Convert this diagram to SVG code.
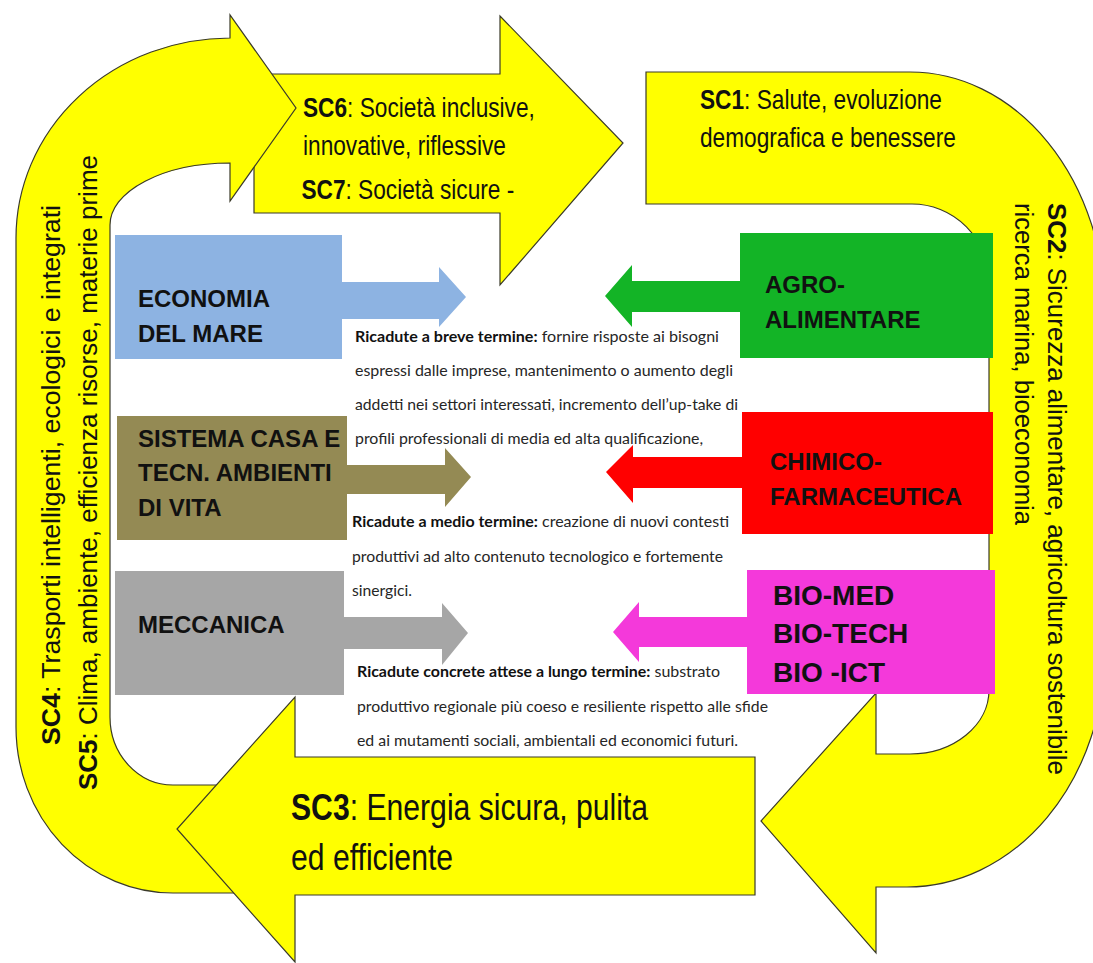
<svg xmlns="http://www.w3.org/2000/svg" width="1093" height="963" viewBox="0 0 1093 963">
  <style>
    .band { fill: #FFFF00; stroke: #3a3a2a; stroke-width: 1.2; stroke-linejoin: miter; }
    .sc { font-family: "Liberation Sans", Arial, sans-serif; font-size: 28px; fill: #111; }
    .sc3 { font-size: 37px; }
    .scr { font-family: "Liberation Sans", Arial, sans-serif; font-size: 26px; fill: #111; }
    .b { font-weight: bold; }
    .lbl { font-family: "Liberation Sans", Arial, sans-serif; font-weight: bold; font-size: 24px; fill: #111; }
    .big { font-size: 28px; }
    .note { font-family: Lato, "Open Sans", sans-serif; font-size: 15px; fill: #262626; }
    .note .b { fill: #111; }
  </style>

  <!-- challenge arrows (yellow ring); narrow captions use a horizontal squeeze -->
  <g id="sc6-sc7">
    <path class="band" d="M254,74 L500,74 L500,16 L623,143 L500,285 L500,213 L254,213 Z"/>
    <g transform="translate(303 0) scale(0.81 1)">
      <text class="sc" x="0" y="117"><tspan class="b">SC6</tspan>: Società inclusive,</text>
      <text class="sc" x="0" y="155">innovative, riflessive</text>
      <text class="sc" x="-2" y="199"><tspan class="b">SC7</tspan>: Società sicure -</text>
    </g>
  </g>

  <g id="sc1-sc2">
    <path class="band" d="M646,72 L910,72 A195,240 0 0 1 1105,312 L1105,650 A198,237 0 0 1 907,887 L876,887 L876,953 L761,821 L876,693 L876,754 L910,754 A79,64 0 0 0 989,690 L989,282 A77,78 0 0 0 912,204 L646,204 Z"/>
    <g transform="translate(700 0) scale(0.81 1)">
      <text class="sc" x="0" y="109"><tspan class="b">SC1</tspan>: Salute, evoluzione</text>
      <text class="sc" x="0" y="147">demografica e benessere</text>
    </g>
    <text class="scr" transform="rotate(90 1048 203)" x="1048" y="203" textLength="572" lengthAdjust="spacingAndGlyphs"><tspan class="b">SC2</tspan>: Sicurezza alimentare, agricoltura sostenibile</text>
    <text class="scr" transform="rotate(90 1015 203)" x="1015" y="203" textLength="322" lengthAdjust="spacingAndGlyphs">ricerca marina, bioeconomia</text>
  </g>

  <g id="sc4-sc5">
    <path class="band" d="M290,785 L173,785 A63,68 0 0 1 110,717 L110,225 A120,62 0 0 1 230,163 L230,201 L296,108 L230,15 L230,38 A214,200 0 0 0 16,238 L16,727 A157,166 0 0 0 173,893 L290,893 Z"/>
    <text class="scr" transform="rotate(-90 60 745)" x="60" y="745" textLength="540" lengthAdjust="spacingAndGlyphs"><tspan class="b">SC4</tspan>: Trasporti intelligenti, ecologici e integrati</text>
    <text class="scr" transform="rotate(-90 97 790)" x="97" y="790" textLength="635" lengthAdjust="spacingAndGlyphs"><tspan class="b">SC5</tspan>: Clima, ambiente, efficienza risorse, materie prime</text>
  </g>

  <g id="sc3">
    <path class="band" d="M755,757 L295,757 L295,697 L177,829 L295,962 L295,895 L755,895 Z"/>
    <g transform="translate(291 0) scale(0.815 1)">
      <text class="sc sc3" x="0" y="820"><tspan class="b">SC3</tspan>: Energia sicura, pulita</text>
      <text class="sc sc3" x="0" y="870">ed efficiente</text>
    </g>
  </g>

  <!-- sector blocks pointing to the centre -->
  <g id="economia-del-mare">
    <rect x="115" y="235" width="227" height="124" fill="#8DB3E2"/>
    <polygon points="341,282 439,282 439,267 466,297 439,327 439,319 341,319" fill="#8DB3E2"/>
    <text class="lbl" x="138" y="307">ECONOMIA</text>
    <text class="lbl" x="138" y="342">DEL MARE</text>
  </g>

  <g id="sistema-casa">
    <rect x="117" y="416" width="230" height="124" fill="#948A54"/>
    <polygon points="346,465 445,465 445,448 471,477 445,507 445,494 346,494" fill="#948A54"/>
    <text class="lbl" x="138" y="447">SISTEMA CASA E</text>
    <text class="lbl" x="138" y="481">TECN. AMBIENTI</text>
    <text class="lbl" x="138" y="516">DI VITA</text>
  </g>

  <g id="meccanica">
    <rect x="115" y="571" width="229" height="124" fill="#A6A6A6"/>
    <polygon points="343,617 442,617 442,603 468,633 442,665 442,649 343,649" fill="#A6A6A6"/>
    <text class="lbl" x="138" y="633">MECCANICA</text>
  </g>

  <g id="agro-alimentare">
    <rect x="740" y="233" width="253" height="125" fill="#13B426"/>
    <polygon points="741,281 632,281 632,265 605,296 632,327 632,312 741,312" fill="#13B426"/>
    <text class="lbl" x="765" y="293">AGRO-</text>
    <text class="lbl" x="765" y="328">ALIMENTARE</text>
  </g>

  <g id="chimico-farmaceutica">
    <rect x="742" y="412" width="251" height="122" fill="#FF0000"/>
    <polygon points="743,457 633,457 633,445 606,472 633,503 633,488 743,488" fill="#FF0000"/>
    <text class="lbl" x="770" y="470">CHIMICO-</text>
    <text class="lbl" x="770" y="505">FARMACEUTICA</text>
  </g>

  <g id="bio">
    <rect x="747" y="570" width="248" height="124" fill="#F439DA"/>
    <polygon points="748,617 639,617 639,602 613,632 639,662 639,647 748,647" fill="#F439DA"/>
    <text class="lbl big" x="773" y="605">BIO-MED</text>
    <text class="lbl big" x="773" y="643">BIO-TECH</text>
    <text class="lbl big" x="773" y="682">BIO -ICT</text>
  </g>

  <!-- expected outcomes -->
  <g id="ricadute-breve" class="note">
    <text x="355" y="342" textLength="364" lengthAdjust="spacingAndGlyphs"><tspan class="b" font-weight="bold">Ricadute a breve termine:</tspan>  fornire risposte ai bisogni</text>
    <text x="355" y="376" textLength="378" lengthAdjust="spacingAndGlyphs">espressi dalle imprese, mantenimento o aumento degli</text>
    <text x="355" y="410" textLength="383" lengthAdjust="spacingAndGlyphs">addetti nei settori interessati, incremento dell’up-take di</text>
    <text x="355" y="444" textLength="348" lengthAdjust="spacingAndGlyphs">profili professionali di media ed alta qualificazione,</text>
  </g>
  <g id="ricadute-medio" class="note">
    <text x="352" y="527" textLength="377" lengthAdjust="spacingAndGlyphs"><tspan class="b" font-weight="bold">Ricadute a medio termine:</tspan>  creazione di nuovi contesti</text>
    <text x="352" y="562" textLength="371" lengthAdjust="spacingAndGlyphs">produttivi ad alto contenuto tecnologico e fortemente</text>
    <text x="352" y="596" textLength="60" lengthAdjust="spacingAndGlyphs">sinergici.</text>
  </g>
  <g id="ricadute-lungo" class="note">
    <text x="357" y="677" textLength="363" lengthAdjust="spacingAndGlyphs"><tspan class="b" font-weight="bold">Ricadute concrete attese a lungo termine:</tspan> substrato</text>
    <text x="357" y="712" textLength="411" lengthAdjust="spacingAndGlyphs">produttivo regionale più coeso e resiliente rispetto alle sfide</text>
    <text x="357" y="746" textLength="381" lengthAdjust="spacingAndGlyphs">ed ai mutamenti sociali, ambientali ed economici futuri.</text>
  </g>
</svg>
